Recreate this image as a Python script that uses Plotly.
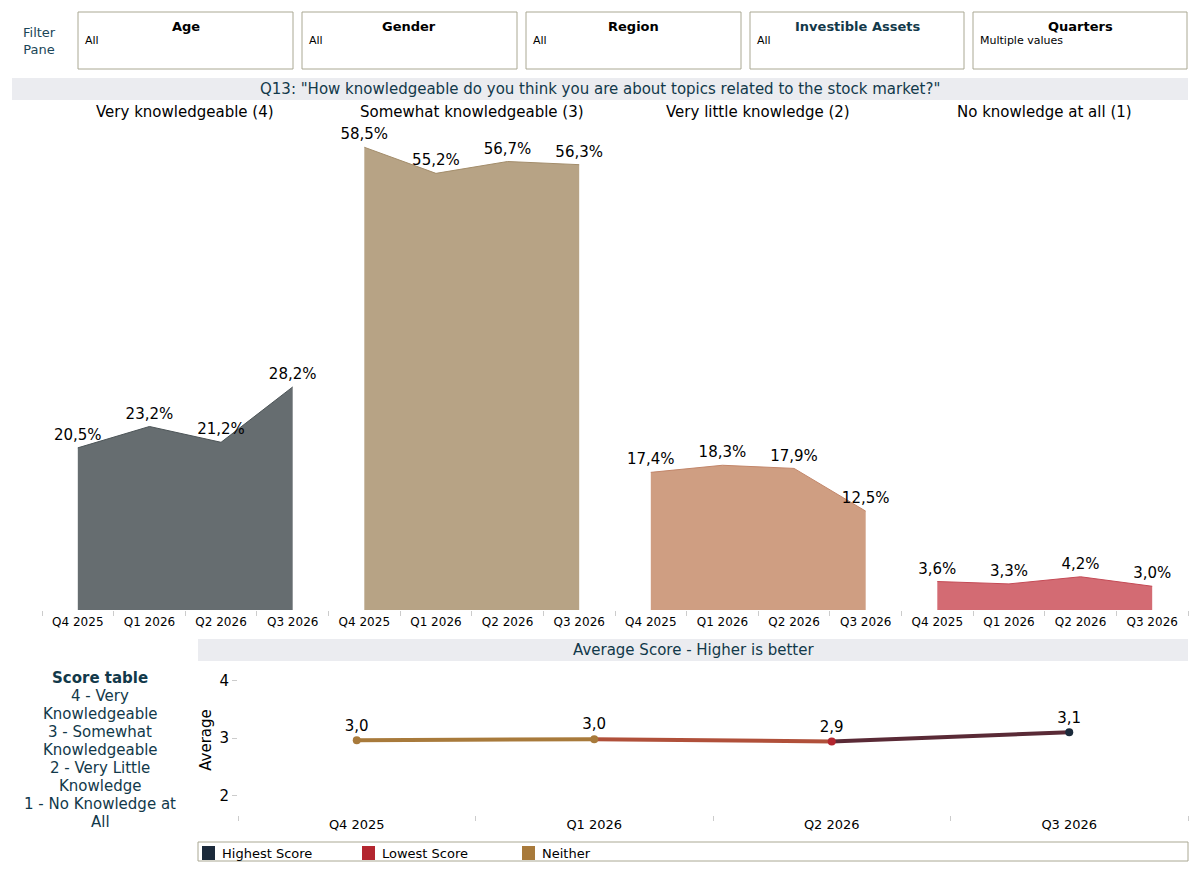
import plotly.graph_objects as go

# the page puts an 8px margin round the plot, so the figure is drawn 16px smaller
OFF = 8
W, H = 1199 - 2 * OFF, 872 - 2 * OFF

quarters = ["Q4 2025", "Q1 2026", "Q2 2026", "Q3 2026"]

categories = ["Very knowledgeable (4)", "Somewhat knowledgeable (3)",
              "Very little knowledge (2)", "No knowledge at all (1)"]
very = [20.5, 23.2, 21.2, 28.2]
somewhat = [58.5, 55.2, 56.7, 56.3]
little = [17.4, 18.3, 17.9, 12.5]
none_ = [3.6, 3.3, 4.2, 3.0]
shares = [very, somewhat, little, none_]

avg_score = [2.96, 2.98, 2.94, 3.10]
avg_labels = ["3,0", "3,0", "2,9", "3,1"]
avg_kind = ["Neither", "Neither", "Lowest Score", "Highest Score"]

filters = ["Age", "Gender", "Region", "Investible Assets", "Quarters"]
filter_values = ["All", "All", "All", "All", "Multiple values"]

score_lines = ["<b>Score table</b>", "4 - Very", "Knowledgeable", "3 - Somewhat",
               "Knowledgeable", "2 - Very Little", "Knowledge", "1 - No Knowledge at", "All"]

fills = ["#666d70", "#b7a385", "#cf9e82", "#d36b73"]
edges = ["#4d5558", "#a38d6b", "#c2866a", "#c44a55"]
kind_col = {"Highest Score": "#1b2a3b", "Lowest Score": "#b3262f", "Neither": "#a87a3b"}
seg_cols = ["#a87a3b", "#b0503a", "#5a2a36"]

FONT = "DejaVu Sans"
TEAL = "#12394a"


def px(x):
    return (x - OFF) / W


def py(y):
    return 1 - (y - OFF) / H


def note(x, y, text, size, color="black", xanchor="center", **kw):
    return dict(x=px(x), y=py(y), xref="paper", yref="paper", text=text,
                showarrow=False, xanchor=xanchor, yanchor="middle",
                font=dict(size=size, color=color), **kw)


fig = go.Figure()
layout = dict(width=W, height=H, margin=dict(l=0, r=0, t=0, b=0),
              plot_bgcolor="white", paper_bgcolor="white", showlegend=False,
              font=dict(family=FONT, size=12, color="black"))

left, right = 42, 1188
pw = (right - left) / 4
ymax = (610 - 124) / 7.91
annotations = []
shapes = []

for i in range(4):
    n = "" if i == 0 else str(i + 1)
    fig.add_trace(go.Scatter(
        x=quarters, y=shares[i], mode="lines+markers+text", fill="tozeroy",
        fillcolor=fills[i], line=dict(color=edges[i], width=1),
        marker=dict(size=5, color="rgba(0,0,0,0)"),
        text=[f"{v:.1f}%".replace(".", ",") for v in shares[i]],
        textposition="top center", textfont=dict(size=15, color="black"),
        cliponaxis=False, xaxis="x" + n, yaxis="y" + n))
    x0 = left + i * pw
    layout["xaxis" + n] = dict(domain=[px(x0), px(x0 + pw)], type="category",
                               range=[-0.5, 3.5], tickson="boundaries", ticks="outside",
                               ticklen=5, tickcolor="#cccccc", showgrid=False,
                               showline=False, zeroline=False, anchor="y" + n,
                               ticklabelstandoff=3, tickfont=dict(size=12))
    layout["yaxis" + n] = dict(domain=[py(610), py(124)], range=[0, ymax],
                               visible=False, anchor="x" + n)
    annotations.append(note(x0 + pw / 2, 112, categories[i], 15))

# average score line, segment colours follow the point kinds
for i in range(3):
    fig.add_trace(go.Scatter(x=quarters[i:i + 2], y=avg_score[i:i + 2], mode="lines",
                             line=dict(color=seg_cols[i], width=4),
                             xaxis="x5", yaxis="y5", hoverinfo="skip"))
fig.add_trace(go.Scatter(x=quarters, y=avg_score, mode="markers+text",
                         marker=dict(size=8, color=[kind_col[k] for k in avg_kind]),
                         text=avg_labels, textposition="top center",
                         textfont=dict(size=15, color="black"),
                         cliponaxis=False, xaxis="x5", yaxis="y5"))
layout["xaxis5"] = dict(domain=[px(238), px(1188)], type="category", range=[-0.5, 3.5],
                        tickson="boundaries", ticks="outside", ticklen=5,
                        tickcolor="#cccccc", showgrid=False, showline=False,
                        zeroline=False, anchor="y5", tickfont=dict(size=13))
layout["yaxis5"] = dict(domain=[py(815), py(665)],
                        range=[3 - (815 - 738) / 57.5, 3 + (738 - 665) / 57.5],
                        tickvals=[2, 3, 4], ticks="outside", ticklen=5,
                        tickcolor="#cccccc", showgrid=False, zeroline=False,
                        showline=False, anchor="x5", tickfont=dict(size=15),
                        title=dict(text="Average", font=dict(size=15), standoff=4))

# filter pane
annotations.append(note(40, 41, "Filter<br>Pane", 13, "#1a4658"))
boxes = [(78, 293), (302, 517), (526, 741), (750, 964), (973, 1187)]
for (a, b), name, val in zip(boxes, filters, filter_values):
    shapes.append(dict(type="rect", xref="paper", yref="paper", x0=px(a), x1=px(b),
                       y0=py(69), y1=py(12), line=dict(color="#aaa893", width=1)))
    annotations.append(note((a + b) / 2, 26, f"<b>{name}</b>", 13,
                            TEAL if name == "Investible Assets" else "black"))
    annotations.append(note(a + 5, 41, val, 11, xanchor="left"))

# banners
shapes.append(dict(type="rect", xref="paper", yref="paper", x0=px(12), x1=px(1188),
                   y0=py(100), y1=py(78), fillcolor="#ebecf0", line=dict(width=0),
                   layer="below"))
annotations.append(note(600, 89, 'Q13: "How knowledgeable do you think you are about topics related to the stock market?"',
                        15, TEAL))
shapes.append(dict(type="rect", xref="paper", yref="paper", x0=px(198), x1=px(1188),
                   y0=py(661), y1=py(639), fillcolor="#ebecf0", line=dict(width=0),
                   layer="below"))
annotations.append(note(693, 650, "Average Score - Higher is better", 15, TEAL))

# score table
for j, line in enumerate(score_lines):
    annotations.append(note(100, 678 + 18 * j, line, 15, TEAL))

# legend box
shapes.append(dict(type="rect", xref="paper", yref="paper", x0=px(198), x1=px(1188),
                   y0=py(861), y1=py(842), line=dict(color="#aaa893", width=1)))
for name, xs in zip(["Highest Score", "Lowest Score", "Neither"], [202, 362, 522]):
    shapes.append(dict(type="rect", xref="paper", yref="paper", x0=px(xs), x1=px(xs + 13),
                       y0=py(860), y1=py(846), fillcolor=kind_col[name], line=dict(width=0)))
    annotations.append(note(xs + 18, 853, name, 13, xanchor="left"))

layout["annotations"] = annotations
layout["shapes"] = shapes
fig.update_layout(**layout)
fig.write_html("out.html")
